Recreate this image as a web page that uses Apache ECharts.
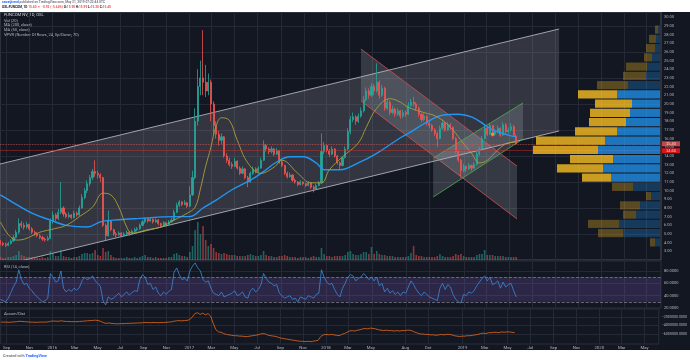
<!DOCTYPE html>
<html><head><meta charset="utf-8">
<script src="https://cdn.jsdelivr.net/npm/echarts@6/dist/echarts.min.js"></script>
<style>html,body{margin:0;padding:0;background:#fff}#c{width:690px;height:360px}</style>
</head><body><div id="c"></div>
<script>
// ---------- DATA ----------
const firstWeek = [2015, 7, 17]; // weekly candles from 17 Aug 2015
// [open, high, low, close] per week
const ohlc = [
[4.1,4.3,3.7,3.9],[3.9,4.1,3.6,3.8],[3.8,4.0,3.5,3.7],[3.7,4.1,3.6,3.9],[3.9,4.4,3.8,4.2],
[4.2,4.9,4.1,4.6],[4.6,5.5,4.5,5.2],[5.2,6.8,5.0,6.2],[6.2,6.5,5.7,6.0],[6.0,6.3,5.5,5.8],
[5.8,6.4,5.6,6.1],[6.1,6.2,5.4,5.6],[5.6,5.8,5.0,5.2],[5.2,5.4,4.8,5.0],[5.0,5.2,4.6,4.8],
[4.8,5.0,4.4,4.6],[4.6,4.8,4.2,4.4],[4.4,4.6,4.1,4.3],[4.3,4.8,4.2,4.5],[4.5,6.8,4.4,6.5],
[6.5,7.6,6.2,7.2],[7.2,7.4,6.5,6.8],[6.8,7.9,6.6,7.5],[7.5,11.0,7.3,8.0],[8.0,8.2,7.0,7.3],
[7.3,7.5,6.8,7.0],[7.0,7.5,6.8,7.2],[7.2,7.3,6.7,6.9],[6.9,7.7,6.8,7.4],[7.4,7.6,7.0,7.2],
[7.2,8.3,7.1,8.0],[8.0,9.6,7.9,9.2],[9.2,10.3,9.0,10.0],[10.0,11.2,9.7,10.8],[10.8,11.8,10.5,11.5],
[11.5,12.5,11.2,12.2],[12.2,13.5,11.6,12.0],[12.0,12.3,11.4,11.8],[11.8,12.0,11.0,11.5],[11.5,11.6,5.8,6.0],
[6.0,6.2,4.3,4.8],[4.8,7.7,4.7,6.5],[6.5,6.6,5.3,5.5],[5.5,5.6,4.8,5.0],[5.0,5.2,4.6,4.9],
[4.9,5.3,4.8,5.1],[5.1,5.2,4.6,4.8],[4.8,5.2,4.7,5.0],[5.0,5.4,4.9,5.2],[5.2,5.3,4.8,5.0],
[5.0,5.5,4.9,5.3],[5.3,5.7,5.2,5.5],[5.5,5.8,5.3,5.6],[5.6,6.2,5.5,6.0],[6.0,6.6,5.9,6.4],
[6.4,6.9,6.2,6.8],[6.8,6.9,6.3,6.5],[6.5,6.9,6.4,6.7],[6.7,6.8,6.2,6.4],[6.4,6.8,6.3,6.6],
[6.6,6.7,6.0,6.2],[6.2,6.3,5.8,6.0],[6.0,6.5,5.9,6.3],[6.3,6.4,5.9,6.1],[6.1,6.6,6.0,6.4],
[6.4,6.9,6.3,6.6],[6.6,7.8,6.5,7.5],[7.5,8.6,7.4,8.3],[8.3,8.9,8.1,8.7],[8.7,8.8,8.2,8.4],
[8.4,8.9,8.3,8.6],[8.6,8.7,8.0,8.2],[8.2,10.5,8.1,9.5],[9.5,12.3,9.4,11.5],[11.5,19.5,11.3,18.0],
[18.0,24.0,17.5,22.0],[22.0,25.0,21.0,23.0],[23.0,28.5,21.0,22.5],[22.5,24.5,20.8,21.5],[21.5,23.5,21.0,22.5],
[22.5,22.8,18.0,20.0],[20.0,20.3,16.5,17.5],[17.5,18.0,16.0,16.5],[16.5,16.9,15.2,15.8],[15.8,16.6,15.4,16.2],
[16.2,16.3,13.8,14.0],[14.0,14.3,13.2,13.5],[13.5,13.8,12.8,13.0],[13.0,13.3,12.5,12.8],[12.8,13.8,12.7,13.4],
[13.4,13.5,12.4,12.6],[12.6,12.8,11.8,12.0],[12.0,12.8,11.9,12.5],[12.5,12.6,11.3,11.5],[11.5,11.7,10.4,11.0],
[11.0,12.2,10.9,12.0],[12.0,12.8,11.8,12.5],[12.5,12.7,12.0,12.2],[12.2,12.8,12.0,12.6],[12.6,13.8,12.5,13.5],
[13.5,15.8,13.4,15.2],[15.2,15.4,14.5,14.8],[14.8,15.0,14.2,14.5],[14.5,15.1,14.3,14.8],[14.8,14.9,14.0,14.2],
[14.2,14.9,14.1,14.6],[14.6,14.7,13.1,13.3],[13.3,13.5,12.7,12.9],[12.9,13.0,11.8,12.0],[12.0,12.2,11.4,11.6],
[11.6,12.1,11.5,11.8],[11.8,11.9,11.0,11.2],[11.2,11.4,10.8,11.0],[11.0,11.1,10.5,10.7],[10.7,11.2,10.6,11.0],
[11.0,11.1,10.6,10.8],[10.8,10.9,10.4,10.6],[10.6,11.1,10.5,10.9],[10.9,11.0,10.2,10.4],[10.4,10.6,9.8,10.2],
[10.2,10.8,10.1,10.6],[10.6,11.1,10.5,10.9],[10.9,16.6,10.8,14.5],[14.5,15.6,14.2,15.2],[15.2,15.3,14.4,14.6],
[14.6,14.8,13.9,14.2],[14.2,15.1,14.1,14.8],[14.8,14.9,13.8,14.0],[14.0,14.1,13.0,13.2],[13.2,13.4,12.5,12.9],
[12.9,14.0,12.8,13.8],[13.8,15.1,13.7,14.8],[14.8,17.2,14.6,16.8],[16.8,18.6,16.5,18.2],[18.2,19.0,17.9,18.5],
[18.5,18.7,17.6,18.0],[18.0,18.9,17.8,18.6],[18.6,19.6,18.4,19.2],[19.2,20.9,19.0,20.5],[20.5,21.9,20.3,21.5],
[21.5,21.8,20.6,21.0],[21.0,22.4,20.8,22.0],[22.0,22.3,21.0,21.5],[21.5,24.7,21.3,22.5],[22.5,22.7,20.6,21.0],
[21.0,22.2,20.8,21.8],[21.8,22.0,19.2,19.5],[19.5,20.6,19.3,20.2],[20.2,20.4,18.7,19.0],[19.0,19.8,18.8,19.4],
[19.4,19.6,18.5,18.8],[18.8,19.5,18.6,19.2],[19.2,19.3,18.3,18.6],[18.6,19.3,18.4,19.0],[19.0,19.2,18.5,18.8],
[18.8,20.2,18.7,19.8],[19.8,20.6,19.6,20.2],[20.2,20.8,19.7,20.0],[20.0,20.2,19.2,19.5],[19.5,19.7,18.5,18.8],
[18.8,19.0,17.9,18.2],[18.2,18.9,18.0,18.6],[18.6,18.7,17.5,17.8],[17.8,18.0,17.2,17.5],[17.5,17.7,16.8,17.0],
[17.0,17.2,16.3,16.6],[16.6,16.8,15.0,16.0],[16.0,17.5,15.9,17.2],[17.2,18.2,17.0,17.8],[17.8,18.0,16.8,17.0],
[17.0,17.9,16.9,17.6],[17.6,17.8,17.0,17.3],[17.3,17.4,15.8,16.0],[16.0,16.2,14.3,14.5],[14.5,14.7,13.3,13.5],
[13.5,13.7,11.5,12.3],[12.3,13.1,12.1,12.8],[12.8,12.9,12.2,12.5],[12.5,13.2,12.4,12.9],[12.9,13.0,12.3,12.6],
[12.6,13.3,12.5,13.0],[13.0,14.5,12.9,14.2],[14.2,15.1,14.0,14.8],[14.8,16.3,14.7,16.0],[16.0,17.6,15.9,17.2],
[17.2,17.4,16.3,16.5],[16.5,17.8,16.4,17.5],[17.5,17.6,16.2,16.5],[16.5,17.1,16.3,16.8],[16.8,17.5,16.6,17.2],
[17.2,17.3,16.2,16.4],[16.4,17.9,16.3,17.6],[17.6,17.8,16.6,16.8],[16.8,17.3,16.6,17.0],[17.0,17.8,16.8,17.4],
[17.4,17.6,16.2,16.4],[16.3,16.5,15.3,15.4]
];
const volume = [
3,2,2,3,3,4,5,9,5,4,3,3,3,2,2,2,3,2,3,9,6,4,4,
10,
4,3,3,2,3,3,4,6,7,7,6,7,
10,5,4,12,8,9,5,3,
2,2,2,2,3,2,2,3,2,3,4,5,3,3,2,3,2,2,2,2,3,3,
6,7,5,4,4,3,
8,14,30,38,26,34,20,14,16,
12,8,7,6,7,6,5,5,5,4,4,4,4,5,6,5,4,4,5,
9,5,4,4,3,3,4,4,5,4,3,3,3,2,3,3,3,2,3,4,3,3,
12,6,4,4,3,4,4,4,4,5,
8,9,6,5,5,6,8,8,6,13,6,9,6,5,
5,4,4,4,3,3,3,3,3,4,7,14,5,4,4,
3,3,3,3,3,4,6,4,3,3,3,4,
6,5,6,4,3,3,3,3,5,6,6,10,
5,5,5,4,4,4,4,3,3,3,3,3
];
const rsi = [
34,32,30,36,45,55,62,82,66,58,60,52,48,42,38,34,30,32,36,76,70,62,64,80,
52,46,50,47,52,49,53,64,70,66,68,72,64,60,55,32,25,38,34,36,
40,44,38,42,46,41,45,48,47,66,74,70,58,60,50,54,44,40,46,42,47,50,
78,85,74,66,68,64,80,88,93,85,80,66,62,64,52,44,42,40,
46,38,40,42,44,48,40,42,46,38,36,48,52,46,50,58,76,68,62,60,56,58,
44,40,36,38,40,34,36,30,38,36,34,40,38,36,42,44,82,70,62,58,60,50,42,38,52,60,
70,74,72,64,68,70,76,72,66,70,64,70,56,60,46,52,44,48,42,46,40,46,44,54,64,58,50,44,40,
46,42,38,36,34,32,52,60,50,58,54,42,34,30,28,42,40,46,44,48,
56,62,68,72,64,70,58,60,64,52,62,54,58,60,48,38
];
// Accumulation/Distribution, millions
const accDistM = [
-3.2,-3.2,-3.2,-3.25,-3.2,-3.15,-3.1,-3.0,-3.05,-3.1,-3.15,-3.2,-3.2,-3.25,-3.25,-3.2,-3.2,-3.2,-3.15,-3.0,-2.95,-3.0,-3.0,-2.9,
-3.0,-3.05,-3.05,-3.1,-3.1,-3.1,-3.05,-3.0,-2.95,-2.9,-2.85,-2.8,
-2.75,-2.85,-3.0,
-3.3,-3.5,-3.4,-3.5,-3.55,-3.6,
-3.6,-3.55,-3.55,-3.5,-3.5,-3.45,-3.45,-3.4,-3.4,-3.35,-3.3,-3.3,-3.35,-3.3,-3.3,-3.35,-3.3,-3.3,-3.25,-3.2,
-3.15,-3.0,-2.9,-2.85,-2.9,-2.85,-2.8,-2.6,
-2.0,-1.2,-1.0,-1.4,
-1.1,-1.5,-1.2,
-1.8,-3.5,-5.0,
-5.5,-5.6,-5.9,-6.1,-6.2,-6.3,
-6.4,-6.4,-6.5,-6.5,-6.6,-6.6,-6.5,-6.4,-6.3,-6.2,
-6.0,-5.9,-6.0,
-6.3,-6.4,-6.5,-6.6,-6.8,-7.0,-7.1,-7.2,-7.3,
-7.4,-7.5,-7.6,-7.7,-7.7,-7.8,-7.7,-7.8,
-7.7,-7.6,-7.5,
-6.6,-6.2,-6.1,-6.2,
-6.1,-6.2,-6.3,-6.4,-6.1,-5.9,
-5.6,-5.3,-5.2,-5.3,-5.1,
-5.0,-4.8,-4.7,-4.8,-4.6,-4.7,-4.8,
-5.0,-5.1,-5.2,-5.1,-5.2,-5.2,-5.3,-5.2,-5.3,-5.2,-5.2,-5.1,-5.1,
-5.3,-5.6,-5.8,-6.0,
-6.0,-6.1,-6.1,-6.2,-6.2,-6.3,-6.2,-6.1,-6.2,-6.1,-6.1,-6.2,
-6.4,-6.5,-6.6,-6.5,-6.5,-6.4,-6.4,-6.3,-6.2,-6.1,-5.9,
-5.8,-5.9,-5.7,-5.7,-5.6,-5.6,-5.7,-5.5,-5.6,-5.5,-5.5,-5.6,-5.7
];
// moving averages: [week index, value]
const ma50Pts = [[0,6.4],[6,4.3],[9,4.4],[15,5.2],[19,5.5],[25,6.0],[30,7.0],[35,8.1],[39,9.7],[42,9.5],[45,8.1],[48,5.8],[50,5.1],[56,5.5],[61,5.8],[66,6.6],[71,7.4],[74,8.1],[76,10.2],[78,12.8],[80,15.0],[82,17.5],[84,18.4],[87,18.1],[90,15.8],[94,13.2],[99,12.0],[104,12.7],[107,13.5],[113,12.0],[118,10.9],[122,10.9],[125,12.4],[130,13.9],[136,15.5],[139,17.3],[143,19.5],[148,20.6],[152,20.2],[155,19.6],[161,19.0],[166,18.5],[171,17.3],[175,15.8],[179,14.3],[182,13.2],[185,13.5],[189,14.7],[193,15.5],[196,15.6]];
const ma200Pts = [[0,9.5],[5,8.6],[12,7.4],[19,6.6],[25,6.0],[33,5.8],[38,6.4],[43,6.6],[53,6.8],[66,7.0],[72,7.0],[77,8.0],[82,8.9],[88,10.1],[95,11.2],[100,12.2],[105,13.3],[110,13.9],[115,13.9],[120,13.2],[123,12.4],[129,12.4],[136,13.2],[143,14.3],[152,16.1],[155,16.6],[162,17.9],[168,18.7],[174,18.8],[179,18.5],[184,17.6],[187,17.0],[193,16.4],[196,16.2]];
// trend channels: [date, price] corners (top-left, top-right, bottom-right, bottom-left)
const bigChannel  = [['2015-08-16',13.07],['2019-09-11',28.64],['2019-09-11',16.88],['2015-08-16',1.31]];
const descChannel = [['2018-04-02',26.33],['2019-05-22',12.84],['2019-05-22',6.73],['2018-04-02',20.34]];
const ascChannel  = [['2018-10-11',13.76],['2019-06-07',20.11],['2019-06-07',15.95],['2018-10-11',9.26]];
const markerPt = [187, 16.5];
// volume profile (24 rows, top to bottom)
const vpUp   = [2,4,5,8,13,14,32,43,28,30,34,43,55,62,47,57,49,27,9,20,24,41,37,5];
const vpDown = [3,7,9,8,21,23,31,39,37,40,37,42,69,65,43,46,29,21,5,20,13,31,25,5];
const vpValueArea = [0,0,0,0,0,0,0,1,1,1,1,1,1,1,1,1,1,0,0,0,0,0,0,0];
const lastClose = 15.40, hLinePrice = 14.60;
// axis ticks
const priceTicks = [3,4,5,6,7,8,9,10,11,12,13,14,15,16,17,18,19,20,21,22,23,24,25,26,27,28,29,30];
const priceGrid = [2,5,8,11,14,17,20,23,26,29];
const rsiTicks = [20,40,60,80];
const adTicks = [-2,-4,-6];
const timeTicks = [['2015-09-01','Sep'],['2015-11-01','Nov'],['2016-01-01','2016'],['2016-03-01','Mar'],['2016-05-01','May'],['2016-07-01','Jul'],['2016-09-01','Sep'],['2016-11-01','Nov'],['2017-01-01','2017'],['2017-03-01','Mar'],['2017-05-01','May'],['2017-07-01','Jul'],['2017-09-01','Sep'],['2017-11-01','Nov'],['2018-01-01','2018'],['2018-03-01','Mar'],['2018-05-01','May'],['2018-08-01','Aug'],['2018-10-01','Oct'],['2019-01-01','2019'],['2019-03-01','Mar'],['2019-05-01','May'],['2019-07-01','Jul'],['2019-09-01','Sep'],['2019-11-01','Nov'],['2020-01-01','2020'],['2020-03-01','Mar'],['2020-05-01','May']];
const timeMin = '2015-08-16', timeMax = '2020-06-08';

// ---------- BUILD ----------
const d = s => { const p = s.split('-').map(Number); return new Date(p[0], p[1]-1, p[2]).getTime(); };
const weeks = ohlc.map((_, i) => new Date(firstWeek[0], firstWeek[1], firstWeek[2] + 7*i).getTime());
const candles = ohlc.map((r, i) => [weeks[i], r[0], r[3], r[2], r[1]]);
const vols = volume.map((v, i) => ({value:[weeks[i], v], itemStyle:{color: ohlc[i][3] >= ohlc[i][0] ? 'rgba(38,166,154,0.55)' : 'rgba(239,83,80,0.55)'}}));
const tickVals = timeTicks.map(t => d(t[0]));
const tickMap = {}; timeTicks.forEach(t => tickMap[d(t[0])] = t[1]);
const GRID = '#252935', LBL = '#b2b5be', FS = 4;

function channel(pts, edge, fill) {
  const P = pts.map(p => [d(p[0]), p[1]]);
  return {
    type:'custom', xAxisIndex:0, yAxisIndex:0, clip:true, silent:true, z:1,
    data:[[P[0][0], P[0][1]]],
    renderItem:(params, api) => {
      const c = P.map(p => api.coord(p));
      return {type:'group', children:[
        {type:'polygon', shape:{points:c}, style:{fill:fill}},
        {type:'polyline', shape:{points:[c[0],c[1]]}, style:{stroke:edge, lineWidth:0.9, fill:null}},
        {type:'polyline', shape:{points:[c[3],c[2]]}, style:{stroke:edge, lineWidth:0.9, fill:null}}
      ]};
    }
  };
}
function dateAxis(gi, showLabels) {
  return {
    type:'value', gridIndex:gi, min:d(timeMin), max:d(timeMax), scale:true,
    axisLine:{show:false}, axisTick:{show:false, customValues:tickVals},
    splitLine:{show:true, lineStyle:{color:GRID, width:1}},
    axisLabel:{show:showLabels, customValues:tickVals, color:LBL, fontSize:4.3, margin:2,
      fontFamily:'Roboto', formatter: v => tickMap[v] || ''}
  };
}
const txt = (text, left, top, size, color) => ({text, left, top, padding:0,
  textStyle:{color, fontSize:size, fontWeight:'normal', fontFamily:'Roboto'}});

const option = {
  animation:false,
  backgroundColor:'#131722',
  graphic:[
    {type:'rect', shape:{x:0, y:0, width:690, height:12}, style:{fill:'#ffffff'}, silent:true},
    {type:'rect', shape:{x:0, y:350, width:690, height:10}, style:{fill:'#ffffff'}, silent:true}
  ],
  title:[
    {text:'{u|sawatjtrend} {g|published on TradingView.com, May 31, 2019 07:22:44 UTC}', left:2, top:1, padding:0,
      textStyle:{fontSize:3.2, fontFamily:'Roboto', rich:{u:{color:'#2962ff', fontSize:3.2}, g:{color:'#787b86', fontSize:3.2}}}},
    {text:'{b|OSL:FUNCOM, 1D} {r|15.40 ▼ −0.92 (−5.64%)} {b|O:}{r|15.90} {b|H:}{r|15.99} {b|L:}{r|15.30} {b|C:}{r|15.40}', left:2, top:6, padding:0,
      textStyle:{fontSize:3.2, fontFamily:'Roboto', rich:{b:{color:'#131722', fontSize:3.2}, r:{color:'#ef5350', fontSize:3.2}}}},
    txt('FUNCOM NV, 1D, OSL', 4, 13.3, 4.2, '#d1d4dc'),
    txt('Vol (20)', 4, 18.8, 4, '#b2b5be'),
    txt('MA (200, close)', 4, 23.3, 4, '#b2b5be'),
    txt('MA (50, close)', 4, 27.9, 4, '#b2b5be'),
    txt('VPVR (Number Of Rows, 24, Up/Down, 70)', 4, 32.5, 4, '#b2b5be'),
    txt('RSI (14, close)', 4, 264.5, 4, '#b2b5be'),
    txt('Accum/Dist', 4, 312, 4, '#b2b5be'),
    {text:'{g|Created with }{u|TradingView}', left:3, top:354.5, padding:0,
      textStyle:{fontSize:3.8, fontFamily:'Roboto', rich:{g:{color:'#787b86', fontSize:3.8}, u:{color:'#2962ff', fontSize:3.8}}}}
  ],
  grid:[
    {left:0, right:29, top:12, height:248, show:true, borderColor:'#4a4e59', borderWidth:1},
    {left:0, right:29, top:261, height:47, show:true, borderColor:'#2a2e39', borderWidth:1},
    {left:0, right:29, top:309, height:35, show:true, borderColor:'#2a2e39', borderWidth:1},
    {right:30, width:200, top:25, height:222}
  ],
  xAxis:[
    dateAxis(0, false), dateAxis(1, false), dateAxis(2, true),
    {type:'value', gridIndex:3, inverse:true, min:0, max:200, show:false}
  ],
  yAxis:[
    {type:'value', gridIndex:0, position:'right', min:2, max:30.6,
      axisLine:{show:false}, axisTick:{show:false, customValues:priceGrid},
      splitLine:{show:true, lineStyle:{color:GRID}},
      axisLabel:{customValues:priceTicks, color:LBL, fontSize:FS, margin:3, fontFamily:'Roboto', formatter:v => v.toFixed(2)}},
    {type:'value', gridIndex:0, min:0, max:248, show:false},
    {type:'value', gridIndex:1, position:'right', min:20, max:96.2,
      axisLine:{show:false}, axisTick:{show:false, customValues:rsiTicks},
      splitLine:{show:true, lineStyle:{color:GRID}},
      axisLabel:{customValues:rsiTicks, color:LBL, fontSize:FS, margin:3, fontFamily:'Roboto', formatter:v => v.toFixed(4)}},
    {type:'value', gridIndex:2, position:'right', min:-8.35, max:-0.12,
      axisLine:{show:false}, axisTick:{show:false, customValues:adTicks},
      splitLine:{show:true, lineStyle:{color:GRID}},
      axisLabel:{customValues:adTicks, color:LBL, fontSize:3.6, margin:3, fontFamily:'Roboto',
        formatter:v => (v*1e6).toFixed(4).replace('-', '−')}},
    {type:'category', gridIndex:3, inverse:true, show:false, data:vpUp.map((_, i) => 'row' + (i+1))}
  ],
  series:[
    channel(bigChannel, 'rgba(210,212,220,0.8)', 'rgba(178,181,190,0.2)'),
    channel(descChannel, 'rgba(220,80,80,0.85)', 'rgba(178,181,190,0.22)'),
    channel(ascChannel, 'rgba(76,175,80,0.9)', 'rgba(178,181,190,0.22)'),
    {type:'bar', xAxisIndex:0, yAxisIndex:1, data:vols, barWidth:1.6, silent:true, z:2},
    {type:'candlestick', xAxisIndex:0, yAxisIndex:0, data:candles, barWidth:1.6, z:3,
      itemStyle:{color:'#26a69a', color0:'#ef5350', borderColor:'#26a69a', borderColor0:'#ef5350', borderWidth:0.8},
      markLine:{symbol:'none', silent:true, animation:false, data:[
        {yAxis:lastClose, lineStyle:{color:'#ef5350', type:'dotted', width:0.8, opacity:0.8},
          label:{show:true, position:'end', distance:1, formatter:lastClose.toFixed(2), color:'#fff', fontSize:FS, backgroundColor:'#ef5350', padding:[0.5,4]}},
        {yAxis:hLinePrice, lineStyle:{color:'#d32f2f', type:'solid', width:0.6, opacity:0.8},
          label:{show:true, position:'end', distance:1, formatter:hLinePrice.toFixed(2), color:'#fff', fontSize:FS, backgroundColor:'#ff1a1a', padding:[0.5,4]}}
      ]}},
    {type:'line', xAxisIndex:0, yAxisIndex:0, data:ma200Pts.map(p => [weeks[p[0]], p[1]]), smooth:0.4, symbol:'none',
      lineStyle:{color:'#2196f3', width:1.4}, z:4, silent:true},
    {type:'line', xAxisIndex:0, yAxisIndex:0, data:ma50Pts.map(p => [weeks[p[0]], p[1]]), smooth:0.4, symbol:'none',
      lineStyle:{color:'#a89f3c', width:0.9}, z:4, silent:true},
    {type:'scatter', xAxisIndex:0, yAxisIndex:0, data:[[weeks[markerPt[0]], markerPt[1]]], symbol:'rect', symbolSize:3,
      itemStyle:{color:'#f5a623'}, z:5, silent:true},
    {type:'bar', xAxisIndex:3, yAxisIndex:4, stack:'vp', barCategoryGap:'12%', silent:true, z:6,
      data:vpUp.map((v, i) => ({value:v, itemStyle:{color: vpValueArea[i] ? 'rgba(33,150,243,0.75)' : 'rgba(33,150,243,0.28)'}}))},
    {type:'bar', xAxisIndex:3, yAxisIndex:4, stack:'vp', barCategoryGap:'12%', silent:true, z:6,
      data:vpDown.map((v, i) => ({value:v, itemStyle:{color: vpValueArea[i] ? 'rgba(255,193,35,0.78)' : 'rgba(255,193,35,0.3)'}}))},
    {type:'line', xAxisIndex:1, yAxisIndex:2, data:rsi.map((v, i) => [weeks[i], v]), symbol:'none',
      lineStyle:{color:'#3d8bd9', width:0.8}, silent:true,
      markArea:{silent:true, itemStyle:{color:'rgba(126,87,194,0.24)'}, data:[[{yAxis:70},{yAxis:30}]]},
      markLine:{symbol:'none', silent:true, label:{show:false}, lineStyle:{color:'#787b86', type:'dashed', width:0.8},
        data:[{yAxis:70},{yAxis:30}]}},
    {type:'line', xAxisIndex:2, yAxisIndex:3, data:accDistM.map((v, i) => [weeks[i], v]), symbol:'none',
      lineStyle:{color:'#d1621c', width:0.9}, silent:true}
  ]
};
echarts.init(document.getElementById('c')).setOption(option);
</script>
</body></html>
